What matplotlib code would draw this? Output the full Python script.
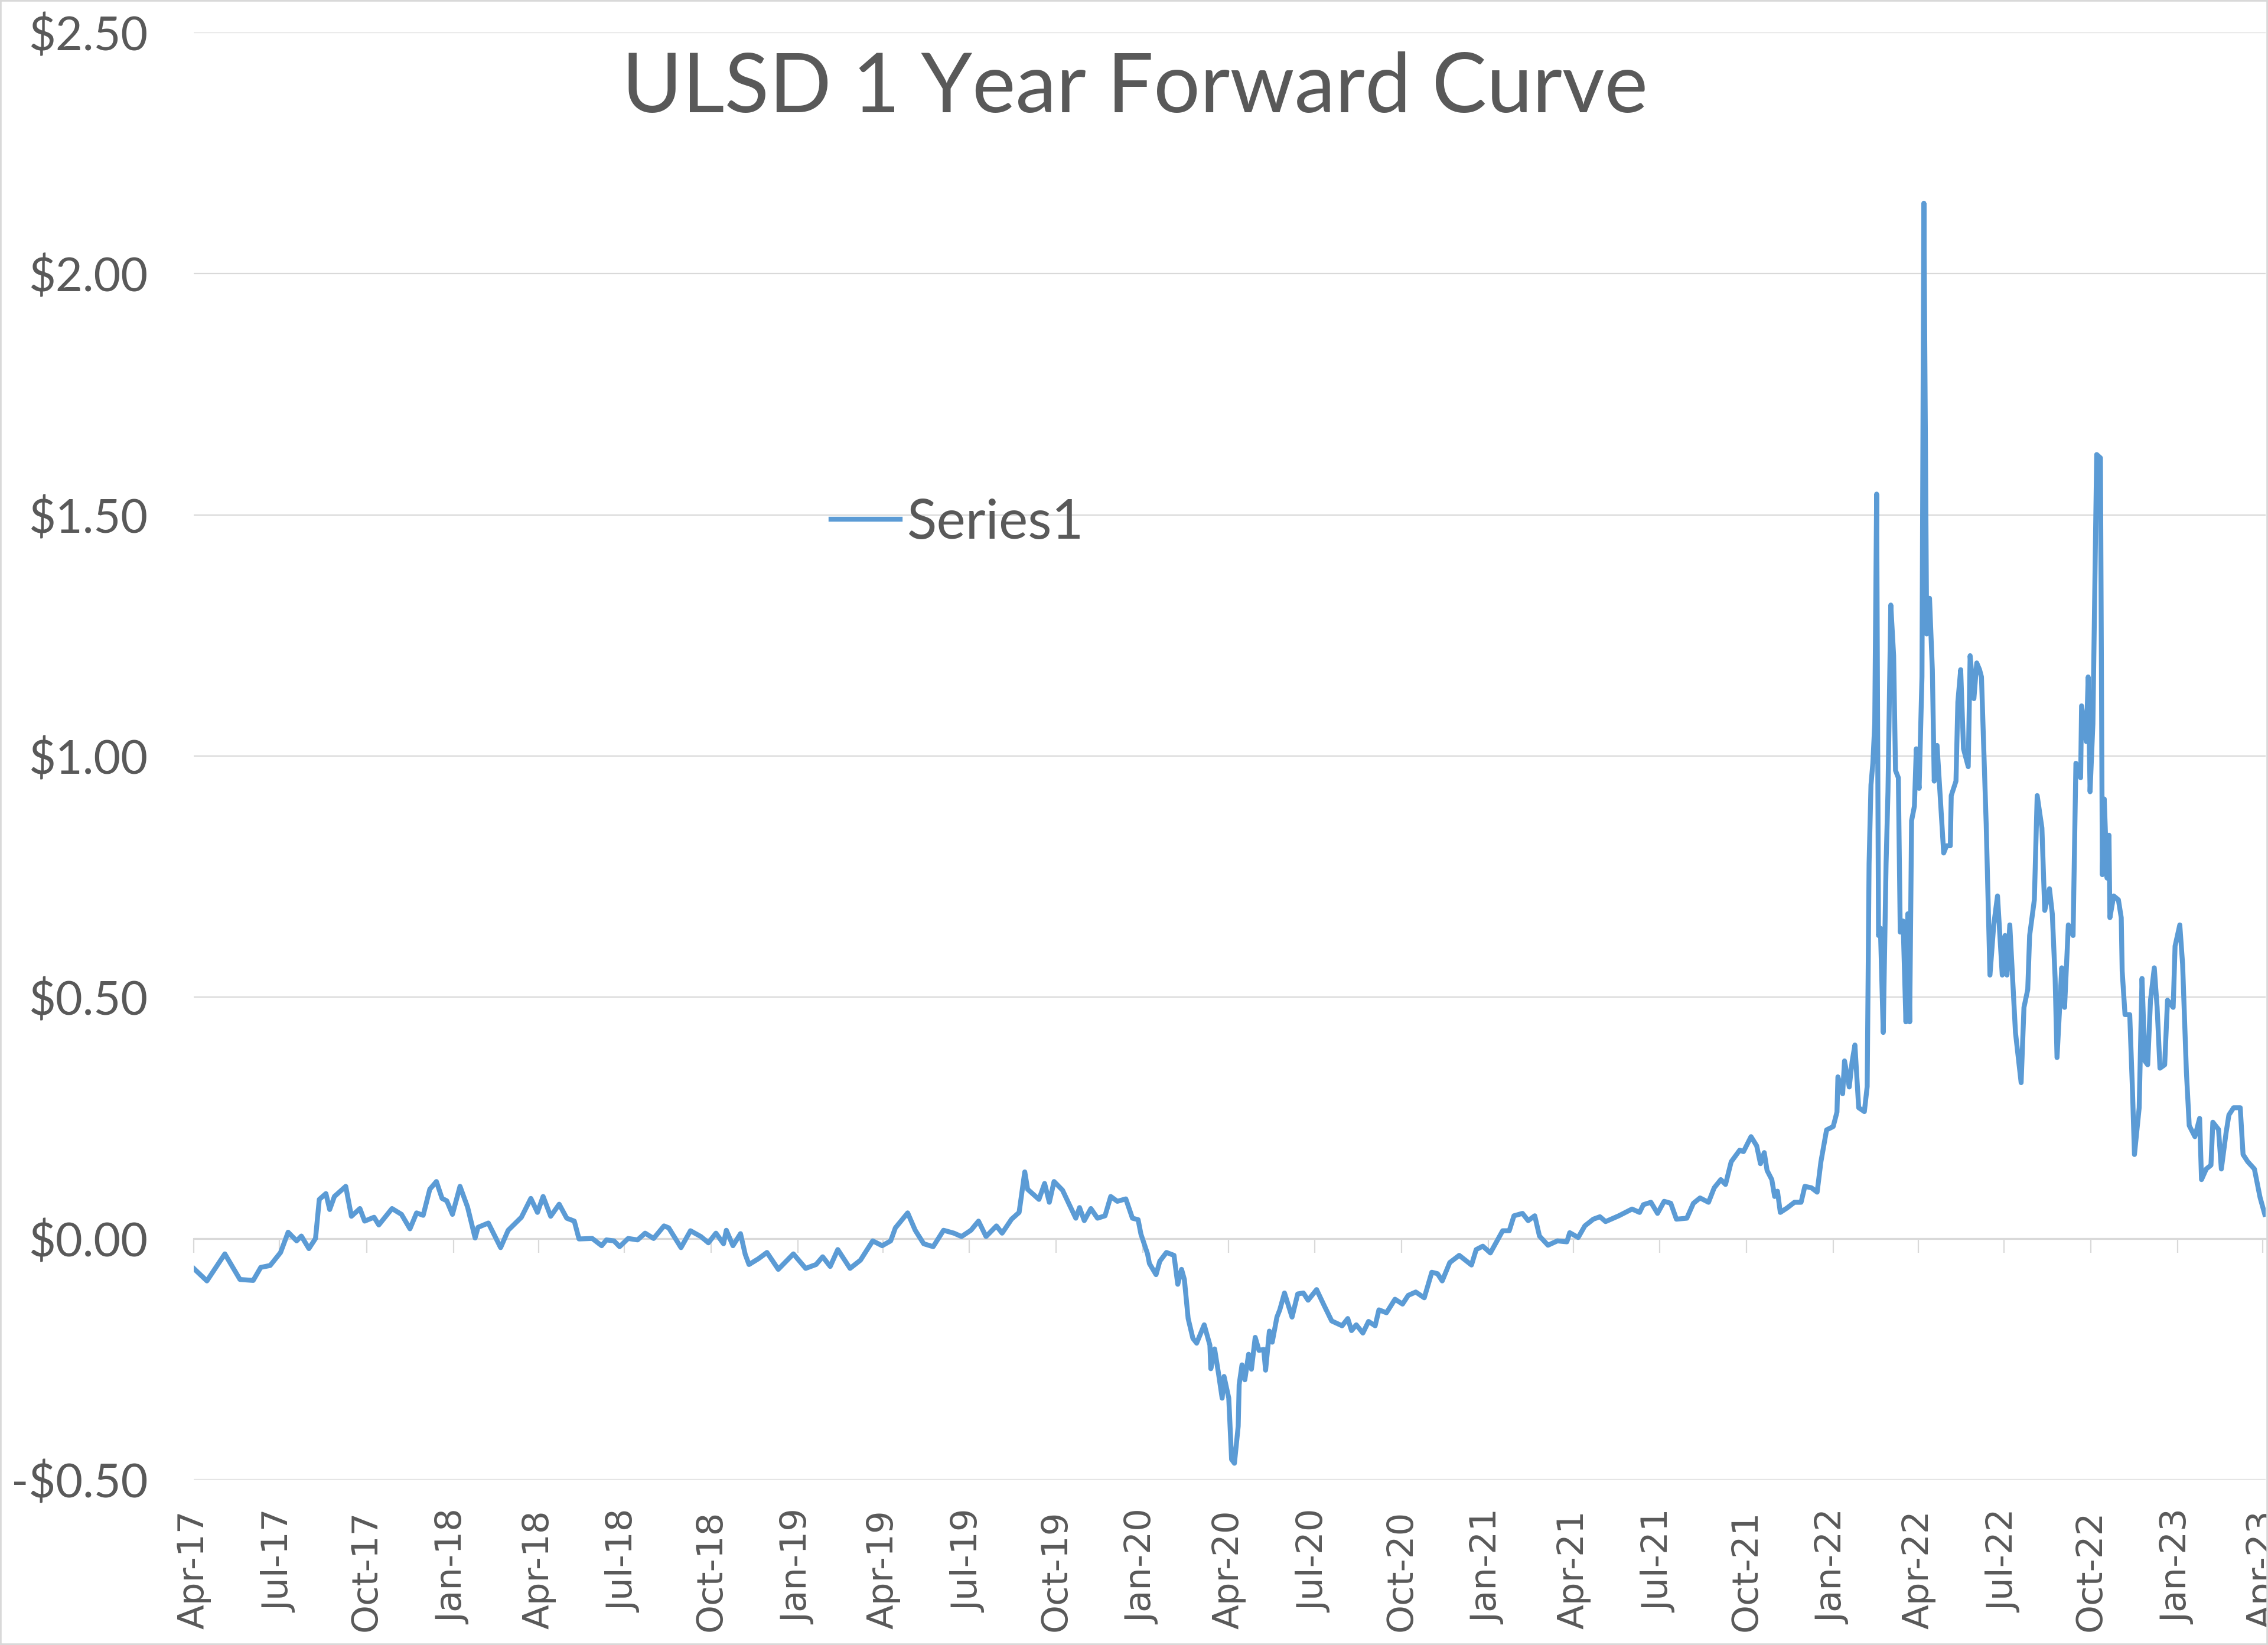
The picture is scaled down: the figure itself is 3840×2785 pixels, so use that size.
import pandas as pd
import matplotlib
matplotlib.use('Agg')
import matplotlib.pyplot as plt
import matplotlib.dates as mdates
from matplotlib.patches import Rectangle
from matplotlib.ticker import FuncFormatter

# Series (date, $/gal)
dates = [
    # 2017
    "2017-04-01", "2017-04-15", "2017-05-04", "2017-05-20", "2017-06-03", "2017-06-11", "2017-06-21",
    "2017-07-02", "2017-07-10", "2017-07-19", "2017-07-24", "2017-08-01", "2017-08-08", "2017-08-12",
    "2017-08-19", "2017-08-23", "2017-08-28", "2017-09-09", "2017-09-15", "2017-09-24", "2017-09-29",
    "2017-10-09", "2017-10-14", "2017-10-28", "2017-11-07", "2017-11-16", "2017-11-23", "2017-11-30",
    "2017-12-07", "2017-12-14", "2017-12-20", "2017-12-25", "2017-12-31",
    # 2018
    "2018-01-08", "2018-01-16", "2018-01-24", "2018-01-27", "2018-02-07", "2018-02-20", "2018-02-28",
    "2018-03-14", "2018-03-24", "2018-03-31", "2018-04-06", "2018-04-14", "2018-04-23", "2018-05-01",
    "2018-05-09", "2018-05-14", "2018-05-28", "2018-06-07", "2018-06-12", "2018-06-20", "2018-06-26",
    "2018-07-05", "2018-07-15", "2018-07-23", "2018-08-01", "2018-08-12", "2018-08-17", "2018-08-30",
    "2018-09-09", "2018-09-20", "2018-09-28", "2018-10-06", "2018-10-14", "2018-10-17", "2018-10-24",
    "2018-11-01", "2018-11-06", "2018-11-10", "2018-11-20", "2018-11-29", "2018-12-11", "2018-12-27",
    # 2019
    "2019-01-09", "2019-01-20", "2019-01-27", "2019-02-04", "2019-02-12", "2019-02-25", "2019-03-08",
    "2019-03-21", "2019-03-31", "2019-04-09", "2019-04-14", "2019-04-27", "2019-05-05", "2019-05-14",
    "2019-05-24", "2019-06-04", "2019-06-15", "2019-06-23", "2019-07-03", "2019-07-11", "2019-07-19",
    "2019-07-30", "2019-08-05", "2019-08-15", "2019-08-23", "2019-08-29", "2019-09-01", "2019-09-13",
    "2019-09-19", "2019-09-24", "2019-09-29", "2019-10-08", "2019-10-14", "2019-10-22", "2019-10-26",
    "2019-10-31", "2019-11-07", "2019-11-14", "2019-11-22", "2019-11-28", "2019-12-05", "2019-12-14",
    "2019-12-21", "2019-12-27", "2019-12-30",
    # 2020
    "2020-01-06", "2020-01-08", "2020-01-15", "2020-01-19", "2020-01-26", "2020-02-03", "2020-02-07",
    "2020-02-11", "2020-02-14", "2020-02-16", "2020-02-18", "2020-02-23", "2020-02-27", "2020-03-06",
    "2020-03-12", "2020-03-13", "2020-03-17", "2020-03-21", "2020-03-25", "2020-03-27", "2020-04-01",
    "2020-04-04", "2020-04-07", "2020-04-11", "2020-04-12", "2020-04-15", "2020-04-18", "2020-04-22",
    "2020-04-25", "2020-04-29", "2020-05-03", "2020-05-08", "2020-05-10", "2020-05-14", "2020-05-17",
    "2020-05-22", "2020-05-25", "2020-05-30", "2020-06-07", "2020-06-13", "2020-06-19", "2020-06-24",
    "2020-07-03", "2020-07-11", "2020-07-19", "2020-07-30", "2020-08-05", "2020-08-09", "2020-08-14",
    "2020-08-21", "2020-08-27", "2020-09-03", "2020-09-07", "2020-09-15", "2020-09-24", "2020-10-02",
    "2020-10-08", "2020-10-16", "2020-10-25", "2020-11-02", "2020-11-08", "2020-11-13", "2020-11-21",
    "2020-12-01", "2020-12-14", "2020-12-19", "2020-12-26",
    # 2021
    "2021-01-03", "2021-01-16", "2021-01-23", "2021-01-28", "2021-02-06", "2021-02-12", "2021-02-19",
    "2021-02-24", "2021-03-05", "2021-03-15", "2021-03-25", "2021-03-28", "2021-04-06", "2021-04-13",
    "2021-04-22", "2021-04-29", "2021-05-05", "2021-05-19", "2021-06-02", "2021-06-10", "2021-06-14",
    "2021-06-22", "2021-06-29", "2021-07-06", "2021-07-13", "2021-07-19", "2021-07-30", "2021-08-06",
    "2021-08-13", "2021-08-22", "2021-08-28", "2021-09-04", "2021-09-09", "2021-09-15", "2021-09-24",
    "2021-09-28", "2021-10-06", "2021-10-12", "2021-10-16", "2021-10-20", "2021-10-23", "2021-10-28",
    "2021-10-31", "2021-11-03", "2021-11-06", "2021-11-13", "2021-11-21", "2021-11-28", "2021-12-02",
    "2021-12-09", "2021-12-15", "2021-12-19", "2021-12-25",
    # 2022
    "2022-01-01", "2022-01-05", "2022-01-06", "2022-01-11", "2022-01-13", "2022-01-18", "2022-01-21",
    "2022-01-24", "2022-01-28", "2022-02-03", "2022-02-06", "2022-02-08", "2022-02-10", "2022-02-12",
    "2022-02-14", "2022-02-16", "2022-02-18", "2022-02-20", "2022-02-23", "2022-02-26", "2022-02-28",
    "2022-03-03", "2022-03-06", "2022-03-08", "2022-03-11", "2022-03-13", "2022-03-16", "2022-03-19",
    "2022-03-21", "2022-03-23", "2022-03-25", "2022-03-28", "2022-03-30", "2022-04-02", "2022-04-05",
    "2022-04-07", "2022-04-10", "2022-04-13", "2022-04-16", "2022-04-18", "2022-04-21", "2022-04-24",
    "2022-04-28", "2022-05-01", "2022-05-05", "2022-05-06", "2022-05-11", "2022-05-13", "2022-05-16",
    "2022-05-19", "2022-05-21", "2022-05-24", "2022-05-26", "2022-05-30", "2022-06-02", "2022-06-05",
    "2022-06-07", "2022-06-12", "2022-06-16", "2022-06-20", "2022-06-24", "2022-06-29", "2022-07-02",
    "2022-07-04", "2022-07-07", "2022-07-13", "2022-07-19", "2022-07-22", "2022-07-26", "2022-07-28",
    "2022-08-02", "2022-08-05", "2022-08-10", "2022-08-13", "2022-08-18", "2022-08-21", "2022-08-24",
    "2022-08-26", "2022-08-31", "2022-09-03", "2022-09-07", "2022-09-12", "2022-09-15", "2022-09-20",
    "2022-09-21", "2022-09-26", "2022-09-28", "2022-09-30", "2022-10-03", "2022-10-05", "2022-10-07",
    "2022-10-11", "2022-10-13", "2022-10-15", "2022-10-18", "2022-10-20", "2022-10-21", "2022-10-25",
    "2022-10-30", "2022-11-02", "2022-11-03", "2022-11-06", "2022-11-11", "2022-11-14", "2022-11-16",
    "2022-11-21", "2022-11-24", "2022-11-27", "2022-11-30", "2022-12-03", "2022-12-07", "2022-12-10",
    "2022-12-13", "2022-12-18", "2022-12-21", "2022-12-27", "2022-12-29",
    # 2023
    "2023-01-03", "2023-01-06", "2023-01-10", "2023-01-13", "2023-01-19", "2023-01-24", "2023-01-26",
    "2023-01-31", "2023-02-05", "2023-02-07", "2023-02-13", "2023-02-16", "2023-02-21", "2023-02-24",
    "2023-03-01", "2023-03-08", "2023-03-11", "2023-03-16", "2023-03-23", "2023-03-29", "2023-04-03",
]

values = [
    # 2017
    -0.062, -0.088, -0.032, -0.085, -0.087, -0.060, -0.056,
    -0.029, 0.013, -0.005, 0.005, -0.021, 0.000, 0.081,
    0.093, 0.060, 0.087, 0.108, 0.046, 0.062, 0.036,
    0.044, 0.028, 0.062, 0.050, 0.020, 0.053, 0.048,
    0.102, 0.118, 0.083, 0.078, 0.050,
    # 2018
    0.108, 0.065, 0.001, 0.023, 0.032, -0.019, 0.017,
    0.044, 0.083, 0.054, 0.087, 0.046, 0.071, 0.042,
    0.036, -0.001, 0.000, -0.015, -0.003, -0.005, -0.017,
    0.000, -0.003, 0.011, 0.000, 0.026, 0.022, -0.019,
    0.016, 0.004, -0.009, 0.011, -0.011, 0.017, -0.015,
    0.010, -0.033, -0.054, -0.042, -0.029, -0.064, -0.032,
    # 2019
    -0.062, -0.054, -0.038, -0.058, -0.023, -0.062, -0.045,
    -0.005, -0.015, -0.005, 0.022, 0.053, 0.017, -0.011,
    -0.017, 0.017, 0.011, 0.004, 0.017, 0.036, 0.004,
    0.026, 0.011, 0.040, 0.054, 0.138, 0.102, 0.081,
    0.114, 0.075, 0.118, 0.100, 0.075, 0.042, 0.064,
    0.037, 0.062, 0.042, 0.047, 0.087, 0.077, 0.082,
    0.042, 0.039, 0.009,
    # 2020
    -0.032, -0.052, -0.075, -0.047, -0.029, -0.035, -0.095,
    -0.064, -0.085, -0.125, -0.166, -0.207, -0.217, -0.179,
    -0.221, -0.270, -0.229, -0.278, -0.331, -0.286, -0.331,
    -0.458, -0.466, -0.389, -0.303, -0.262, -0.293, -0.240,
    -0.271, -0.205, -0.232, -0.230, -0.273, -0.192, -0.215,
    -0.163, -0.148, -0.113, -0.163, -0.115, -0.113, -0.128,
    -0.106, -0.139, -0.171, -0.181, -0.166, -0.191, -0.179,
    -0.196, -0.172, -0.181, -0.148, -0.154, -0.126, -0.136,
    -0.118, -0.111, -0.123, -0.070, -0.073, -0.088, -0.050,
    -0.035, -0.055, -0.023, -0.016,
    # 2021
    -0.030, 0.016, 0.016, 0.047, 0.052, 0.037, 0.047,
    0.005, -0.014, -0.005, -0.007, 0.012, 0.002, 0.026,
    0.040, 0.045, 0.035, 0.047, 0.061, 0.054, 0.070,
    0.075, 0.052, 0.077, 0.073, 0.040, 0.042, 0.073,
    0.084, 0.075, 0.105, 0.122, 0.112, 0.159, 0.183,
    0.180, 0.211, 0.192, 0.155, 0.178, 0.141, 0.122,
    0.087, 0.098, 0.054, 0.063, 0.075, 0.075, 0.108,
    0.105, 0.096, 0.159, 0.225,
    # 2022
    0.232, 0.262, 0.335, 0.300, 0.368, 0.314, 0.366,
    0.401, 0.271, 0.263, 0.315, 0.777, 0.940, 0.985,
    1.067, 1.543, 0.628, 0.643, 0.427, 0.777, 0.926,
    1.313, 1.208, 0.970, 0.955, 0.635, 0.658, 0.449,
    0.673, 0.449, 0.866, 0.896, 1.015, 0.933, 1.164,
    2.146, 1.253, 1.327, 1.179, 0.948, 1.022, 0.926,
    0.799, 0.814, 0.814, 0.918, 0.948, 1.112, 1.179,
    1.015, 1.000, 0.978, 1.208, 1.119, 1.193, 1.179,
    1.164, 0.859, 0.546, 0.650, 0.710, 0.546, 0.628,
    0.546, 0.650, 0.427, 0.323, 0.479, 0.516, 0.628,
    0.702, 0.918, 0.851, 0.680, 0.725, 0.673, 0.539,
    0.375, 0.561, 0.479, 0.650, 0.628, 0.985, 0.955,
    1.104, 1.030, 1.164, 0.926, 1.067, 1.350, 1.625,
    1.618, 0.754, 0.911, 0.747, 0.836, 0.665, 0.710,
    0.702, 0.665, 0.554, 0.464, 0.464, 0.301, 0.174,
    0.271, 0.539, 0.368, 0.360, 0.494, 0.561, 0.479,
    0.353, 0.360, 0.494, 0.479, 0.606,
    # 2023
    0.650, 0.568, 0.345, 0.234, 0.211, 0.249, 0.122,
    0.144, 0.152, 0.241, 0.226, 0.144, 0.219, 0.256,
    0.271, 0.271, 0.174, 0.159, 0.144, 0.085, 0.050,
]

y_ticks = [-0.5, 0.0, 0.5, 1.0, 1.5, 2.0, 2.5]
title = 'ULSD 1 Year Forward Curve'
series_name = 'Series1'

x = pd.to_datetime(dates)

text_grey = '#595959'
grid_grey = '#D9D9D9'
line_blue = '#5B9BD5'

fig = plt.figure(figsize=(38.4, 27.85), dpi=100)
ax = fig.add_axes([0.0854, 0.1005, 0.9136, 0.8798])

ax.plot(x, values, color=line_blue, lw=6, label=series_name, zorder=3)

# y axis: dollar labels, grid only
ax.set_ylim(-0.5, 2.5)
ax.set_yticks(y_ticks)
ax.yaxis.set_major_formatter(FuncFormatter(lambda v, _: ('-$%.2f' % abs(v)) if v < 0 else ('$%.2f' % v)))
ax.yaxis.grid(True, color=grid_grey, lw=1.6)
ax.set_axisbelow(True)
ax.tick_params(axis='y', length=0, pad=56, labelsize=57, labelcolor=text_grey)
for lab in ax.get_yticklabels():
    lab.set_family('Lato')

# x axis: quarterly date labels at the bottom
ax.set_xlim(pd.Timestamp('2017-04-01'), pd.Timestamp('2023-04-04'))
quarters = mdates.MonthLocator(bymonth=(1, 4, 7, 10))
ax.xaxis.set_major_locator(quarters)
ax.xaxis.set_major_formatter(mdates.DateFormatter('%b-%y'))
ax.tick_params(axis='x', length=0, pad=37, labelsize=44, labelcolor=text_grey, labelrotation=90)
for lab in ax.get_xticklabels():
    lab.set_family('DejaVu Sans')

for side in ['left', 'right', 'top', 'bottom']:
    ax.spines[side].set_visible(False)

# horizontal axis line with tick marks sits at $0.00
zero_axis = ax.secondary_xaxis(0, transform=ax.transData)
zero_axis.xaxis.set_major_locator(mdates.MonthLocator(bymonth=(1, 4, 7, 10)))
zero_axis.tick_params(axis='x', length=17, width=1.6, color=grid_grey, labelbottom=False)
zero_axis.spines['bottom'].set_color(grid_grey)
zero_axis.spines['bottom'].set_linewidth(2.2)

# title and legend inside the chart area
fig.text(0.5005, 0.946, title, ha='center', va='center', fontsize=100,
         family='Lato', color=text_grey)
ax.legend(loc='center left', bbox_to_anchor=(0.3664, 0.682), bbox_transform=fig.transFigure,
          frameon=False, prop={'family': 'Lato', 'size': 67}, labelcolor=text_grey,
          handlelength=1.26, handletextpad=0.13, borderpad=0, borderaxespad=0)

# light chart border
fig.patches.append(Rectangle((0, 0), 1, 1, transform=fig.transFigure, fill=False,
                             edgecolor=grid_grey, lw=4))

fig.savefig('out.png', dpi=100, facecolor='white')
